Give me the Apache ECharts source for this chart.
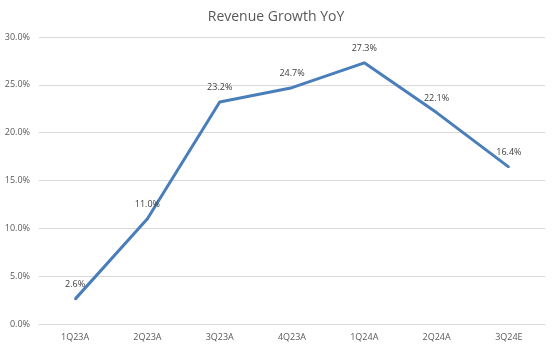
<!DOCTYPE html>
<html><head><meta charset="utf-8">
<script src="https://cdn.jsdelivr.net/npm/echarts@6/dist/echarts.min.js"></script>
<style>html,body{margin:0;padding:0;background:#fff}#c{width:552px;height:348px}</style>
</head><body><div id="c"></div>
<script>
const categories = ['1Q23A','2Q23A','3Q23A','4Q23A','1Q24A','2Q24A','3Q24E'];
const growth = [2.6, 11.0, 23.2, 24.7, 27.3, 22.1, 16.4];
const chart = echarts.init(document.getElementById('c'), null, {renderer:'canvas'});
chart.setOption({
  animation:false,
  backgroundColor:'#fff',
  title:{text:'Revenue Growth YoY',left:'center',top:5,
    textStyle:{fontFamily:'Open Sans',fontSize:14,fontWeight:'normal',color:'#595959'}},
  grid:{left:39,right:7,top:37,bottom:24},
  xAxis:{type:'category',data:categories,boundaryGap:true,
    axisLine:{lineStyle:{color:'#d9d9d9'}},axisTick:{show:false},
    axisLabel:{fontFamily:'Open Sans',fontSize:9,color:'#595959',margin:9}},
  yAxis:{type:'value',min:0,max:30,interval:5,
    axisLine:{show:false},axisTick:{show:false},
    splitLine:{lineStyle:{color:'#d9d9d9'}},
    axisLabel:{fontFamily:'Open Sans',fontSize:9,color:'#595959',margin:9,
      formatter:v=>v.toFixed(1)+'%'}},
  series:[{type:'line',data:growth,symbol:'circle',symbolSize:2,showSymbol:true,
    itemStyle:{color:'#4a7ebb'},
    lineStyle:{color:'#4a7ebb',width:3},
    label:{show:true,position:'top',distance:9,fontFamily:'Open Sans',fontSize:9,color:'#404040',
      formatter:p=>p.value.toFixed(1)+'%'}}]
});
</script></body></html>
